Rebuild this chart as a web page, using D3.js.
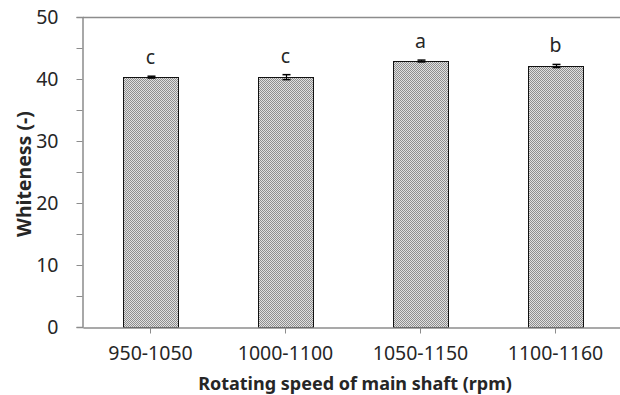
<!DOCTYPE html>
<html>
<head>
<meta charset="utf-8">
<script src="https://cdn.jsdelivr.net/npm/d3@7"></script>
<style>
  body { margin: 0; background: #fff; }
  text { font-family: "Noto Sans", sans-serif; }
</style>
</head>
<body>
<svg id="canvas" width="620" height="395"></svg>
<script>
'use strict';

/* chart data */
const categories = ['950-1050', '1000-1100', '1050-1150', '1100-1160'];
const whiteness = [40.3, 40.3, 42.9, 42.1];
const errors = [0.15, 0.4, 0.15, 0.25];
const letters = ['c', 'c', 'a', 'b'];
const yTicks = [0, 10, 20, 30, 40, 50];
const yMinorTicks = [5, 15, 25, 35, 45];

const margin = {left: 83, right: -3, top: 17, bottom: 68};
const width = 620, height = 395;

let svg = d3.select('svg#canvas');

/* checker fill used by the bars */
let defs = svg.append('defs');
let pat = defs.append('pattern')
  .attr('id', 'checker')
  .attr('patternUnits', 'userSpaceOnUse')
  .attr('width', 2).attr('height', 2);
pat.append('rect').attr('width', 2).attr('height', 2).style('fill', '#e0e0e0');
pat.append('rect').attr('width', 1).attr('height', 1).style('fill', '#8e8e8e');
pat.append('rect').attr('x', 1).attr('y', 1).attr('width', 1).attr('height', 1).style('fill', '#8e8e8e');

let x = d3.scaleBand()
  .domain(categories)
  .range([margin.left, width - margin.right])
  .paddingInner(0).paddingOuter(0);

let y = d3.scaleLinear()
  .domain([0, 50])
  .range([height - margin.bottom, margin.top]);

const axisColor = '#8c8c8c';
const textColor = '#262626';

/* top border of the plot area */
svg.append('line')
  .attr('x1', margin.left).attr('x2', width)
  .attr('y1', y(50) + 0.5).attr('y2', y(50) + 0.5)
  .style('stroke', axisColor).style('stroke-width', 1.5);

/* y axis */
let yAxis = svg.append('g')
  .attr('transform', `translate(${margin.left - 0.5},0)`)
  .call(d3.axisLeft(y).tickValues(yTicks).tickSize(6).tickPadding(18));
yAxis.select('.domain').style('stroke', axisColor).style('stroke-width', 1.5);
yAxis.selectAll('.tick line').style('stroke', axisColor);
yAxis.selectAll('.tick text')
  .style('font-size', '19.5px').style('fill', textColor);

svg.append('g')
  .attr('transform', `translate(${margin.left - 0.5},0)`)
  .selectAll('line')
  .data(yMinorTicks)
  .enter().append('line')
  .attr('x1', -6).attr('x2', 0)
  .attr('y1', function(d){ return Math.round(y(d)) + 0.5; })
  .attr('y2', function(d){ return Math.round(y(d)) + 0.5; })
  .style('stroke', axisColor);

/* bars */
let bw = x.bandwidth() * 0.405;
let data = categories.map(function(c, i){
  return {cat: c, v: whiteness[i], e: errors[i], l: letters[i]};
});

svg.append('g').attr('id', 'bars')
  .selectAll('rect')
  .data(data)
  .enter().append('rect')
  .attr('x', function(d){ return Math.round(x(d.cat) + x.bandwidth() / 2 - bw / 2) + 0.5; })
  .attr('y', function(d){ return Math.round(y(d.v)) + 0.5; })
  .attr('width', Math.round(bw))
  .attr('height', function(d){ return Math.round(y(0)) - Math.round(y(d.v)); })
  .style('fill', 'url(#checker)')
  .style('stroke', '#111')
  .style('stroke-width', 1);

/* x axis */
let xAxis = svg.append('g')
  .attr('transform', `translate(0,${y(0) + 0.5})`)
  .call(d3.axisBottom(x).tickSize(6).tickPadding(13).tickSizeOuter(0));
xAxis.select('.domain').style('stroke', axisColor).style('stroke-width', 1.5);
xAxis.selectAll('.tick line').style('stroke', axisColor);
xAxis.selectAll('.tick text')
  .style('font-size', '19.5px').style('fill', textColor);

/* error bars */
let eb = svg.append('g').attr('id', 'errors');
data.forEach(function(d){
  let cx = Math.round(x(d.cat) + x.bandwidth() / 2) + 0.5;
  eb.append('line')
    .attr('x1', cx).attr('x2', cx)
    .attr('y1', y(d.v + d.e)).attr('y2', y(d.v - d.e))
    .style('stroke', '#000').style('stroke-width', 1.2);
  [d.v + d.e, d.v - d.e].forEach(function(v){
    eb.append('line')
      .attr('x1', cx - 4).attr('x2', cx + 4)
      .attr('y1', y(v)).attr('y2', y(v))
      .style('stroke', '#000').style('stroke-width', 1.5);
  });
});

/* significance letters */
svg.append('g').attr('id', 'letters')
  .selectAll('text')
  .data(data)
  .enter().append('text')
  .attr('x', function(d){ return x(d.cat) + x.bandwidth() / 2; })
  .attr('y', function(d){ return y(d.v + d.e) - 12; })
  .attr('text-anchor', 'middle')
  .style('font-size', '19.5px')
  .style('fill', textColor)
  .text(function(d){ return d.l; });

/* axis titles */
svg.append('text')
  .attr('x', 355).attr('y', 390)
  .attr('text-anchor', 'middle')
  .style('font-size', '18px').style('font-weight', 'bold')
  .style('fill', textColor)
  .text('Rotating speed of main shaft (rpm)');

svg.append('text')
  .attr('transform', 'translate(31,174) rotate(-90)')
  .attr('text-anchor', 'middle')
  .style('font-size', '19.5px').style('font-weight', 'bold')
  .style('fill', textColor)
  .text('Whiteness (-)');
</script>
</body>
</html>
